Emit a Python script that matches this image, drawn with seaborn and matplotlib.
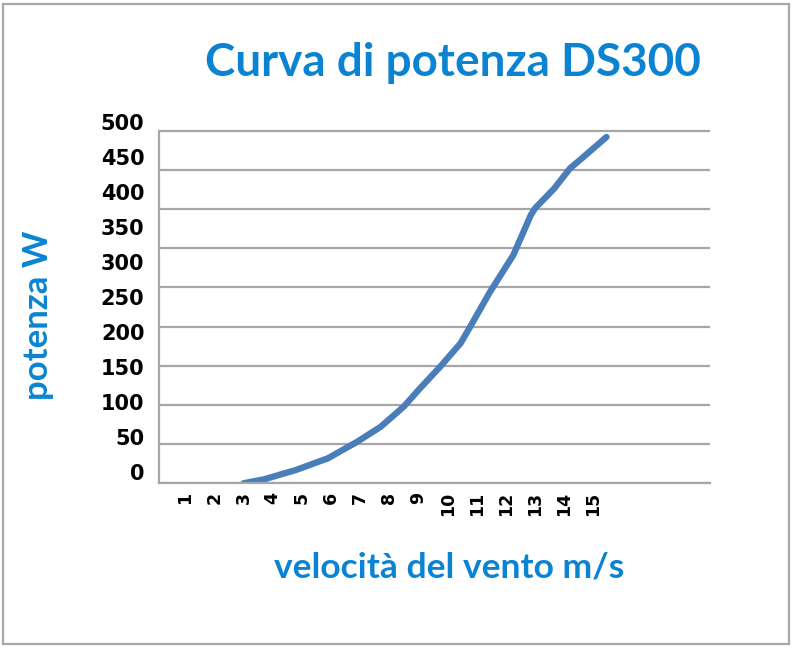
import pandas as pd
import seaborn as sns
import matplotlib.pyplot as plt
from matplotlib.patches import Rectangle

sns.set_style("white")
plt.rcParams['font.family'] = ['DejaVu Sans']

# power curve (gridline scale, W)
wind_speed = [3, 3.7, 4.8, 5.9, 6.9, 7.7, 8.5, 9.0, 9.75, 10.45, 10.9,
              11.45, 12.25, 12.85, 13.0, 13.65, 14.2, 14.55, 15.45]
power_w = [0, 5, 17, 32, 53, 72, 98, 119, 149, 179, 208,
           244, 291, 342, 351, 376, 402, 413, 442]

x_ticks = list(range(1, 16))
y_labels = list(range(0, 501, 50))
grid_levels = list(range(0, 451, 50))

text_blue = '#0a84d2'
line_blue = '#4a7ebb'
grey = '#a6a6a6'

df = pd.DataFrame({'vento': wind_speed, 'potenza': power_w})

fig = plt.figure(figsize=(7.95, 6.5), dpi=100)
ax = fig.add_axes([0.2, 0.2565, 0.6931, 0.5569])

sns.lineplot(data=df, x='vento', y='potenza', ax=ax, color=line_blue,
             linewidth=4.6, solid_capstyle='round', solid_joinstyle='round')

ax.set_xlim(0.1, 19)
ax.set_ylim(0, 462)

ax.set_xticks(x_ticks)
ax.set_xticklabels([str(t) for t in x_ticks], rotation=90, fontsize=12.5,
                   fontweight='bold', va='top', color='black')

# the value labels in the original sit a bit off the gridlines
label_pos = [14.8 + 0.8933 * v for v in y_labels]
ax.set_yticks(label_pos)
ax.set_yticklabels([str(v) for v in y_labels], fontsize=15, fontweight='bold',
                   color='black')
ax.set_yticks(grid_levels, minor=True)

ax.tick_params(axis='y', which='both', length=0, pad=10.5)
ax.tick_params(axis='x', length=0, pad=6)
ax.grid(False)
ax.grid(which='minor', axis='y', color=grey, linewidth=1.6)
ax.set_axisbelow(True)

for side in ['top', 'right']:
    ax.spines[side].set_visible(False)
for side in ['left', 'bottom']:
    ax.spines[side].set_color(grey)
    ax.spines[side].set_linewidth(1.6)
ax.spines['left'].set_bounds(0, 450)

ax.set_xlabel('')
ax.set_ylabel('')

fig.text(0.570, 0.8831, 'Curva di potenza DS300', family='Lato', fontweight='bold',
         fontsize=33, color=text_blue, ha='center', va='baseline')
fig.text(0.565, 0.1118, 'velocità del vento m/s', family='Lato', fontweight='bold',
         fontsize=25.5, color=text_blue, ha='center', va='baseline')
fig.text(0.048, 0.515, 'potenza W', family='Lato', fontweight='bold',
         fontsize=25, color=text_blue, ha='center', va='center', rotation=90)

fig.add_artist(Rectangle((0.0042, 0.010), 0.9883, 0.9838, transform=fig.transFigure,
                         fill=False, edgecolor='#a8a8a8', linewidth=1.6))

fig.savefig('out.png', dpi=100)
